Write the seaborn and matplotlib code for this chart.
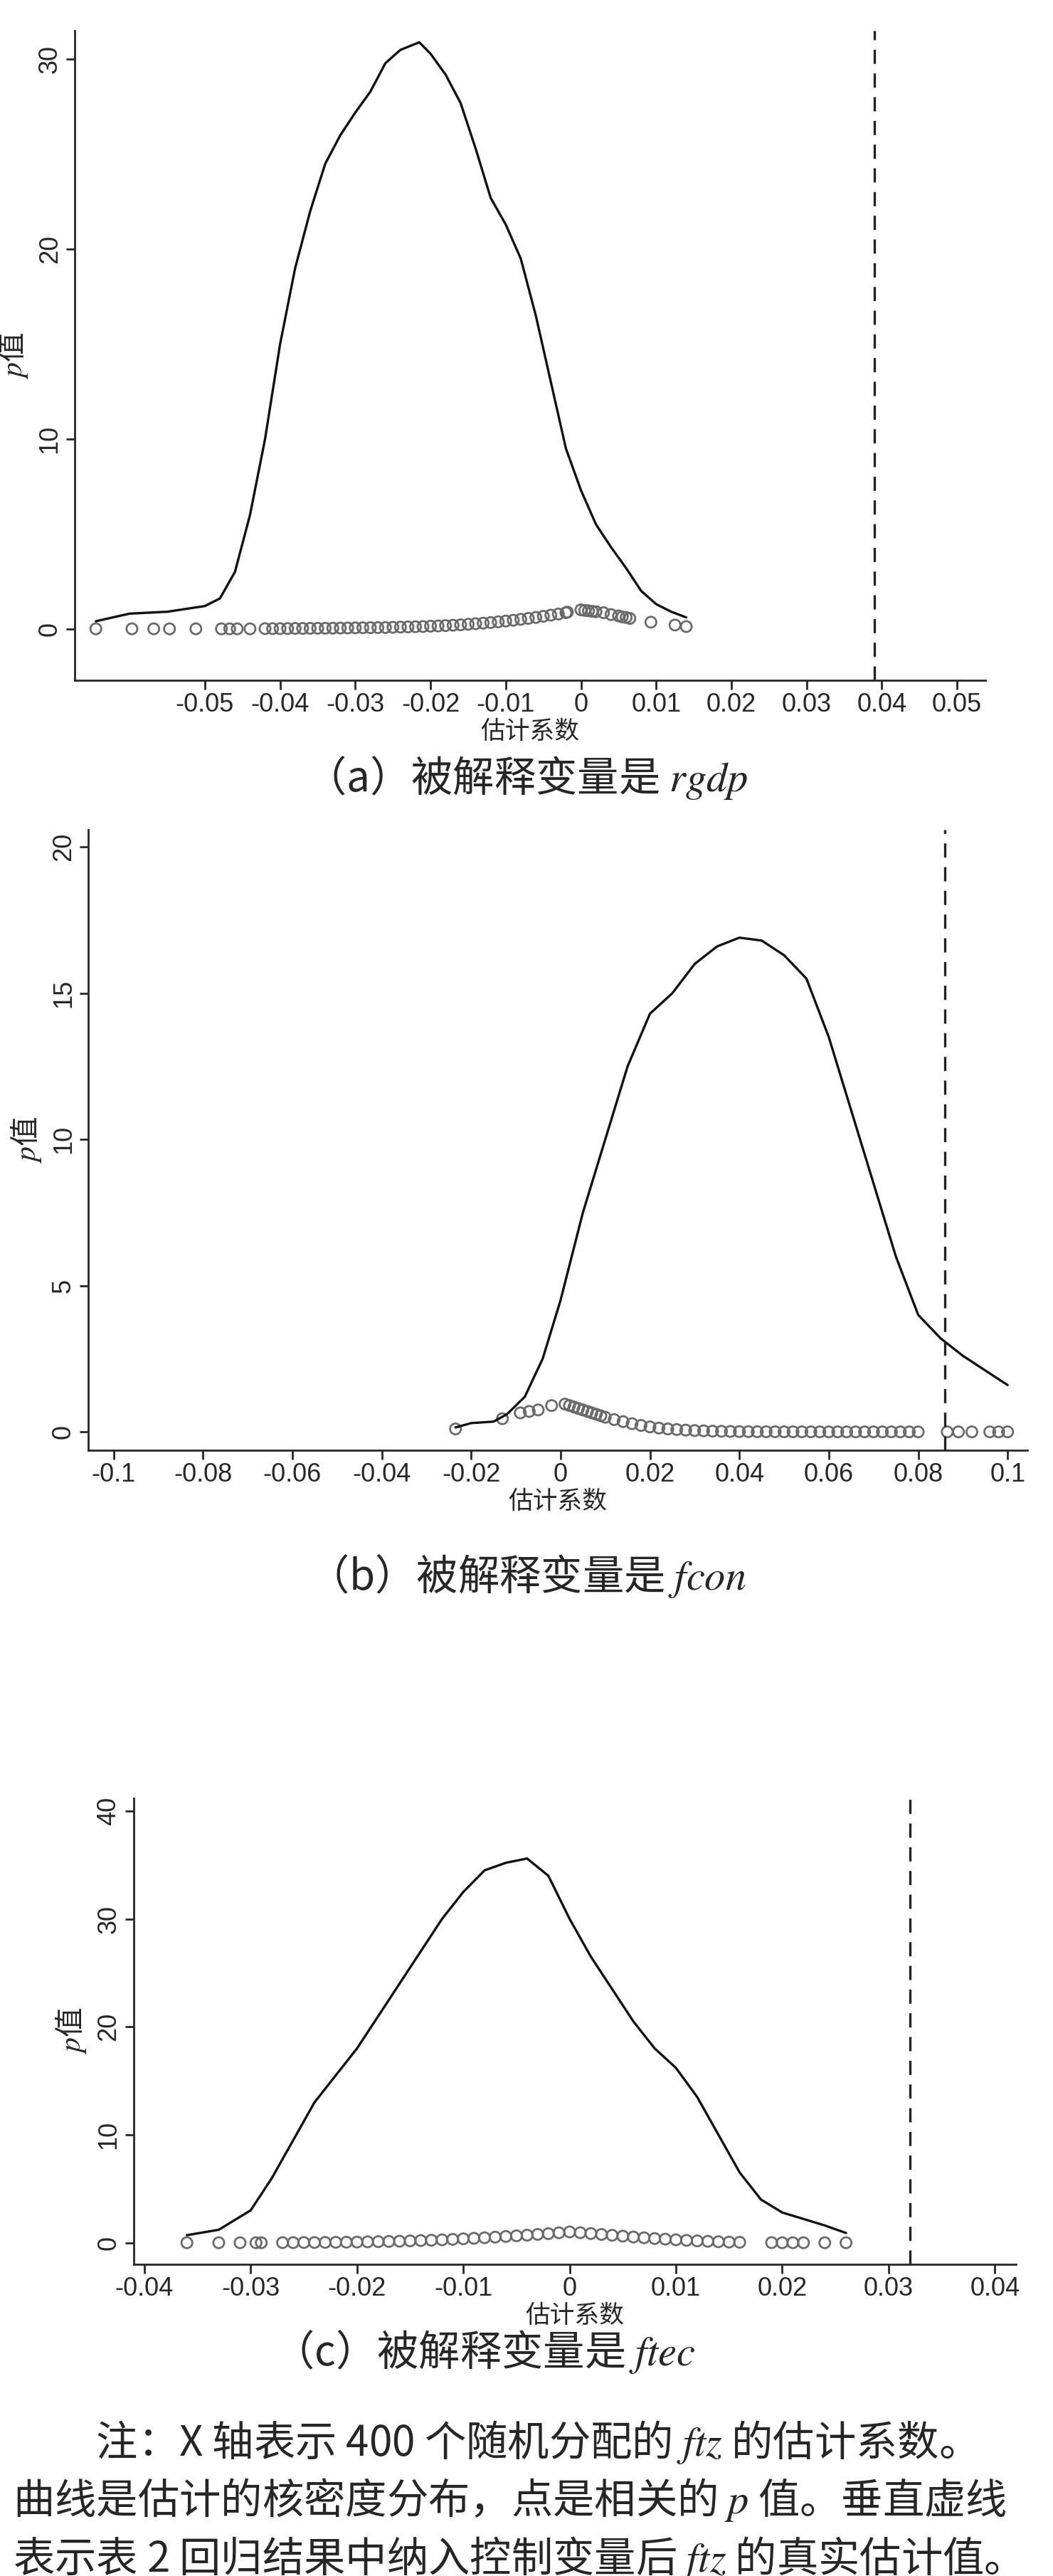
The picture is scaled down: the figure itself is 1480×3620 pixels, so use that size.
import numpy as np
import pandas as pd
import matplotlib
matplotlib.use("Agg")
import matplotlib.pyplot as plt
import seaborn as sns

# ---- panel (a): rgdp ----
kde_a_x = [-0.0645, -0.060, -0.055, -0.050, -0.048, -0.046, -0.044, -0.042, -0.040, -0.038, -0.036,
           -0.034, -0.032, -0.030, -0.028, -0.026, -0.024, -0.0215, -0.020, -0.018, -0.016, -0.014,
           -0.012, -0.010, -0.008, -0.006, -0.004, -0.002, 0.0, 0.002, 0.004, 0.006, 0.008, 0.010,
           0.012, 0.014]
kde_a_y = [0.4, 0.8, 0.9, 1.2, 1.6, 3.0, 6.0, 10.0, 15.0, 19.0, 22.0, 24.5, 26.0, 27.2, 28.3, 29.8,
           30.5, 30.9, 30.3, 29.2, 27.7, 25.3, 22.7, 21.3, 19.5, 16.5, 13.0, 9.5, 7.3, 5.5, 4.3, 3.2,
           2.0, 1.3, 0.9, 0.6]
p_a_x = [-0.0645, -0.0597, -0.0568, -0.0547, -0.0512, -0.0478, -0.0467, -0.0457, -0.0440,
         -0.042, -0.041, -0.040, -0.039, -0.038, -0.037, -0.036, -0.035, -0.034, -0.033, -0.032,
         -0.031, -0.030, -0.029, -0.028, -0.027, -0.026, -0.025, -0.024, -0.023, -0.022, -0.021,
         -0.020, -0.019, -0.018, -0.017, -0.016, -0.015, -0.014, -0.013, -0.012, -0.011, -0.010,
         -0.009, -0.008, -0.007, -0.006, -0.005, -0.004, -0.003, -0.002, -0.0018,
         0.0, 0.0005, 0.001, 0.0015, 0.002, 0.003, 0.004, 0.005, 0.0055, 0.006, 0.0065,
         0.0093, 0.0125, 0.014]
p_a_y = [0.0, 0.0, 0.0, 0.0, 0.0, 0.0, 0.0, 0.0, 0.0,
         0.01, 0.01, 0.01, 0.015, 0.02, 0.02, 0.025, 0.03, 0.03, 0.035, 0.04,
         0.045, 0.05, 0.055, 0.06, 0.065, 0.07, 0.08, 0.09, 0.10, 0.11, 0.12,
         0.14, 0.15, 0.17, 0.19, 0.21, 0.24, 0.27, 0.30, 0.33, 0.37, 0.41,
         0.45, 0.50, 0.55, 0.60, 0.66, 0.72, 0.78, 0.85, 0.88,
         1.0, 0.97, 0.95, 0.92, 0.90, 0.85, 0.75, 0.68, 0.63, 0.60, 0.55,
         0.35, 0.20, 0.12]
true_a = 0.039

# ---- panel (b): fcon ----
kde_b_x = [-0.0235, -0.020, -0.015, -0.012, -0.008, -0.004, 0.0, 0.005, 0.010, 0.015, 0.020, 0.025,
           0.030, 0.035, 0.040, 0.045, 0.050, 0.055, 0.060, 0.065, 0.070, 0.075, 0.080, 0.085,
           0.090, 0.095, 0.100]
kde_b_y = [0.15, 0.3, 0.35, 0.6, 1.2, 2.5, 4.5, 7.5, 10.0, 12.5, 14.3, 15.0, 16.0, 16.6, 16.9, 16.8,
           16.3, 15.5, 13.5, 11.0, 8.5, 6.0, 4.0, 3.2, 2.6, 2.1, 1.6]
p_b_x = [-0.0235, -0.013, -0.009, -0.007, -0.005, -0.002,
         0.001, 0.002, 0.003, 0.004, 0.005, 0.006, 0.007, 0.008, 0.009, 0.010, 0.012, 0.014, 0.016,
         0.018, 0.020, 0.022, 0.024, 0.026, 0.028, 0.030, 0.032, 0.034, 0.036, 0.038, 0.040, 0.042,
         0.044, 0.046, 0.048, 0.050, 0.052, 0.054, 0.056, 0.058, 0.060, 0.062, 0.064, 0.066, 0.068,
         0.070, 0.072, 0.074, 0.076, 0.078, 0.080, 0.0865, 0.089, 0.092, 0.096, 0.098, 0.100]
p_b_y = [0.1, 0.45, 0.65, 0.7, 0.75, 0.9,
         0.95, 0.9, 0.85, 0.8, 0.75, 0.7, 0.65, 0.6, 0.55, 0.5, 0.42, 0.35, 0.28,
         0.22, 0.17, 0.13, 0.10, 0.08, 0.06, 0.045, 0.035, 0.025, 0.02, 0.015, 0.01, 0.008,
         0.006, 0.005, 0.004, 0.003, 0.002, 0.002, 0.001, 0.001, 0.0, 0.0, 0.0, 0.0, 0.0,
         0.0, 0.0, 0.0, 0.0, 0.0, 0.0, 0.0, 0.0, 0.0, 0.0, 0.0, 0.0]
true_b = 0.086

# ---- panel (c): ftec ----
kde_c_x = [-0.036, -0.033, -0.030, -0.028, -0.026, -0.024, -0.022, -0.020, -0.018, -0.016, -0.014,
           -0.012, -0.010, -0.008, -0.006, -0.004, -0.002, 0.0, 0.002, 0.004, 0.006, 0.008, 0.010,
           0.012, 0.014, 0.016, 0.018, 0.020, 0.022, 0.024, 0.026]
kde_c_y = [0.7, 1.2, 3.0, 6.0, 9.5, 13.0, 15.5, 18.0, 21.0, 24.0, 27.0, 30.0, 32.5, 34.5, 35.2, 35.6,
           34.0, 30.0, 26.5, 23.5, 20.5, 18.0, 16.2, 13.5, 10.0, 6.5, 4.0, 2.8, 2.2, 1.6, 0.9]
p_c_x = [-0.036, -0.033, -0.031, -0.0295, -0.029,
         -0.027, -0.026, -0.025, -0.024, -0.023, -0.022, -0.021, -0.020, -0.019, -0.018, -0.017,
         -0.016, -0.015, -0.014, -0.013, -0.012, -0.011, -0.010, -0.009, -0.008, -0.007, -0.006,
         -0.005, -0.004, -0.003, -0.002, -0.001, 0.0, 0.001, 0.002, 0.003, 0.004, 0.005, 0.006,
         0.007, 0.008, 0.009, 0.010, 0.011, 0.012, 0.013, 0.014, 0.015, 0.016,
         0.019, 0.020, 0.021, 0.022, 0.024, 0.026]
p_c_y = [0.0, 0.0, 0.0, 0.0, 0.0,
         0.01, 0.01, 0.02, 0.02, 0.03, 0.04, 0.05, 0.06, 0.08, 0.10, 0.12,
         0.14, 0.17, 0.20, 0.23, 0.27, 0.31, 0.36, 0.41, 0.46, 0.52, 0.58,
         0.64, 0.70, 0.77, 0.84, 0.92, 1.0, 0.93, 0.85, 0.77, 0.69, 0.61, 0.53,
         0.46, 0.39, 0.33, 0.27, 0.22, 0.17, 0.13, 0.09, 0.06, 0.04,
         0.01, 0.0, 0.0, 0.0, 0.0, 0.0]
true_c = 0.032

sns.set_style("ticks")
plt.rcParams['font.family'] = ['Liberation Sans', 'Noto Sans CJK SC', 'DejaVu Sans']
plt.rcParams['mathtext.fontset'] = 'stix'

fig = plt.figure(figsize=(14.8, 36.2), dpi=100)
cjk = ['Noto Sans CJK SC', 'DejaVu Sans']

panels = [
    dict(rect=[0.071, 0.736, 0.865, 0.252], kx=kde_a_x, ky=kde_a_y, px=p_a_x, py=p_a_y, true=true_a,
         xlim=(-0.0673, 0.0538), ylim=(-2.7, 31.5),
         xticks=[-0.05, -0.04, -0.03, -0.02, -0.01, 0, 0.01, 0.02, 0.03, 0.04, 0.05],
         yticks=[0, 10, 20, 30], cap_y=0.698, cap_x=0.5, cap='（a）被解释变量是 $\\mathit{rgdp}$'),
    dict(rect=[0.084, 0.437, 0.892, 0.241], kx=kde_b_x, ky=kde_b_y, px=p_b_x, py=p_b_y, true=true_b,
         xlim=(-0.1056, 0.1045), ylim=(-0.63, 20.6),
         xticks=[-0.1, -0.08, -0.06, -0.04, -0.02, 0, 0.02, 0.04, 0.06, 0.08, 0.1],
         yticks=[0, 5, 10, 15, 20], cap_y=0.388, cap_x=0.5, cap='（b）被解释变量是 $\\mathit{fcon}$'),
    dict(rect=[0.127, 0.121, 0.838, 0.181], kx=kde_c_x, ky=kde_c_y, px=p_c_x, py=p_c_y, true=true_c,
         xlim=(-0.041, 0.042), ylim=(-2.0, 41.2),
         xticks=[-0.04, -0.03, -0.02, -0.01, 0, 0.01, 0.02, 0.03, 0.04],
         yticks=[0, 10, 20, 30, 40], cap_y=0.087, cap_x=0.46, cap='（c）被解释变量是 $\\mathit{ftec}$'),
]

for p in panels:
    ax = fig.add_axes(p['rect'])
    kde = pd.DataFrame({'x': p['kx'], 'y': p['ky']})
    pv = pd.DataFrame({'x': p['px'], 'p': p['py']})
    sns.lineplot(data=kde, x='x', y='y', ax=ax, color='#111111', lw=2.4, sort=False)
    sns.scatterplot(data=pv, x='x', y='p', ax=ax, s=120, facecolors='none',
                    edgecolor='#6a6a6a', linewidth=2.0, marker='o')
    ax.axvline(p['true'], color='#222222', ls=(0, (6, 4)), lw=2.4)
    ax.set_xlim(*p['xlim'])
    ax.set_ylim(*p['ylim'])
    ax.set_xticks(p['xticks'])
    ax.set_xticklabels(['0' if t == 0 else f'{t:g}' for t in p['xticks']])
    ax.set_yticks(p['yticks'])
    ax.tick_params(axis='both', labelsize=26, length=9, width=2, direction='out')
    for lab in ax.get_yticklabels():
        lab.set_rotation(90)
        lab.set_va('center')
    for s in ['top', 'right']:
        ax.spines[s].set_visible(False)
    for s in ['left', 'bottom']:
        ax.spines[s].set_linewidth(2)
    ax.set_xlabel('估计系数', fontsize=25, family=cjk, labelpad=2)
    ax.set_ylabel('$p$值', fontsize=30, family=cjk, labelpad=8)
    fig.text(p['cap_x'], p['cap_y'], p['cap'], ha='center', va='center', fontsize=42, family=cjk)

notes = ['　　注：X 轴表示 400 个随机分配的 $\\mathit{ftz}$ 的估计系数。',
         '曲线是估计的核密度分布，点是相关的 $p$ 值。垂直虚线',
         '表示表 2 回归结果中纳入控制变量后 $\\mathit{ftz}$ 的真实估计值。']
for i, line in enumerate(notes):
    fig.text(0.012, 0.052 - i * 0.0225, line, ha='left', va='center', fontsize=42, family=cjk)

fig.savefig('out.png', dpi=100, facecolor='white')
